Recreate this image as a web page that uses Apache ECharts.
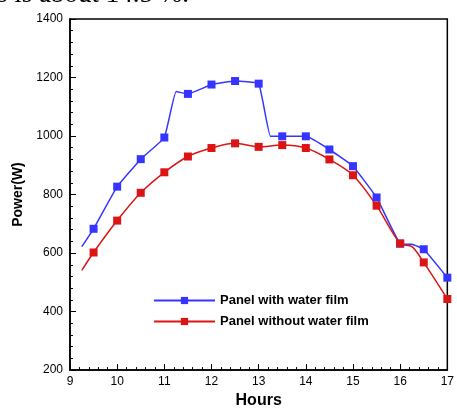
<!DOCTYPE html>
<html>
<head>
<meta charset="utf-8">
<script src="https://cdn.jsdelivr.net/npm/echarts@6/dist/echarts.min.js"></script>
<style>
  html, body { margin: 0; padding: 0; background: #ffffff; }
  #chart { width: 457px; height: 414px; }
</style>
</head>
<body>
<div id="chart"></div>
<script>
// Hourly output power of a PV panel, with and without a water film on its surface.
const blueHours  = [9.25, 9.5, 10, 10.5, 11, 11.25, 11.5, 12, 12.5, 13, 13.25, 13.5, 14, 14.5, 15, 15.5, 16, 16.25, 16.5, 17];
const bluePower  = [622, 683, 827, 921, 995, 1152, 1144, 1176, 1188, 1179, 999, 999, 999, 954, 897, 790, 632, 630, 613, 516];
const blueMarked = [0, 1, 1, 1, 1, 0, 1, 1, 1, 1, 0, 1, 1, 1, 1, 1, 1, 0, 1, 1];

const redHours   = [9.25, 9.5, 10, 10.5, 11, 11.5, 12, 12.5, 13, 13.5, 14, 14.5, 15, 15.5, 16, 16.25, 16.5, 17];
const redPower   = [541, 602, 711, 806, 876, 930, 959, 975, 963, 969, 959, 920, 866, 762, 633, 622, 568, 443];
const redMarked  = [0, 1, 1, 1, 1, 1, 1, 1, 1, 1, 1, 1, 1, 1, 1, 0, 1, 1];

const seriesNames = ['Panel with water film', 'Panel without water film'];
const xTicks = { min: 9, max: 17, step: 1 };
const yTicks = { min: 200, max: 1400, step: 200 };

function points(xs, ys, marked) {
  return xs.map((x, i) => marked[i]
    ? { value: [x, ys[i]] }
    : { value: [x, ys[i]], symbol: 'none' });
}

const BLUE = '#3535ff';
const RED = '#dc1414';
const FONT = '"Liberation Sans", Arial, sans-serif';

const chart = echarts.init(document.getElementById('chart'), null, { renderer: 'canvas' });

const axisCommon = {
  axisLine: { show: true, onZero: false, lineStyle: { color: '#000', width: 1.5 } },
  axisTick: { show: true, inside: true, length: 6, lineStyle: { color: '#000', width: 1 } },
  minorTick: { show: true, splitNumber: 5, length: 3, lineStyle: { color: '#000', width: 1 } },
  splitLine: { show: false },
  axisLabel: { color: '#000', fontFamily: FONT, fontSize: 12, formatter: v => String(v) }
};

chart.setOption({
  animation: false,
  backgroundColor: '#ffffff',
  graphic: [{
    type: 'text',
    left: -3,
    top: -19,
    style: {
      text: 's is about 14.5 %.',
      font: '27px "Liberation Serif", "Times New Roman", serif',
      fill: '#000'
    }
  }],
  grid: {
    left: 70, right: 5, top: 19, bottom: 35,
    show: true, borderColor: '#000', borderWidth: 1.5, backgroundColor: 'transparent'
  },
  legend: {
    orient: 'vertical',
    left: 148, top: 289,
    itemWidth: 61, itemHeight: 9, itemGap: 8,
    textStyle: { color: '#000', fontFamily: FONT, fontSize: 13, fontWeight: 'bold' },
    data: seriesNames
  },
  xAxis: Object.assign({}, axisCommon, {
    type: 'value',
    min: xTicks.min, max: xTicks.max, interval: xTicks.step,
    name: 'Hours', nameLocation: 'middle', nameGap: 22,
    nameTextStyle: { color: '#000', fontFamily: FONT, fontSize: 16, fontWeight: 'bold' },
    axisLabel: Object.assign({}, axisCommon.axisLabel, { margin: 6 })
  }),
  yAxis: Object.assign({}, axisCommon, {
    type: 'value',
    min: yTicks.min, max: yTicks.max, interval: yTicks.step,
    name: 'Power(W)', nameLocation: 'middle', nameGap: 42,
    nameTextStyle: { color: '#000', fontFamily: FONT, fontSize: 14, fontWeight: 'bold' },
    axisLabel: Object.assign({}, axisCommon.axisLabel, { margin: 7 })
  }),
  series: [
    {
      name: seriesNames[0], type: 'line',
      data: points(blueHours, bluePower, blueMarked),
      smooth: 0.1,
      symbol: 'rect', symbolSize: 8,
      lineStyle: { color: BLUE, width: 1.5 },
      itemStyle: { color: BLUE }
    },
    {
      name: seriesNames[1], type: 'line',
      data: points(redHours, redPower, redMarked),
      smooth: 0.3,
      symbol: 'rect', symbolSize: 8,
      lineStyle: { color: RED, width: 1.5 },
      itemStyle: { color: RED }
    }
  ]
});
</script>
</body>
</html>
